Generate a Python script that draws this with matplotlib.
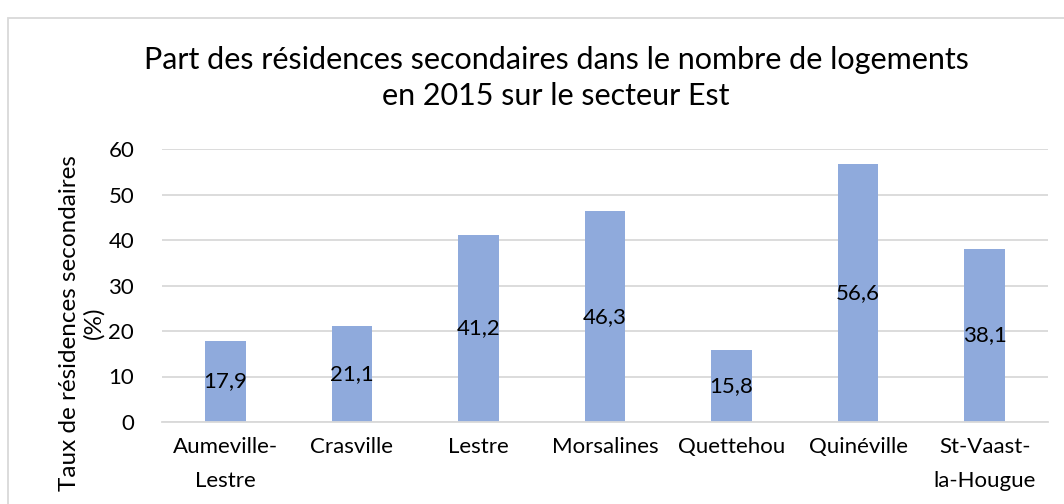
import matplotlib.pyplot as plt
from matplotlib.patches import Rectangle

communes = ['Aumeville-\nLestre', 'Crasville', 'Lestre', 'Morsalines',
            'Quettehou', 'Quinéville', 'St-Vaast-\nla-Hougue']
taux = [17.9, 21.1, 41.2, 46.3, 15.8, 56.6, 38.1]
yticks = [0, 10, 20, 30, 40, 50, 60]

plt.rcParams['font.family'] = ['Lato', 'DejaVu Sans']

W, H = 1064, 504
fig = plt.figure(figsize=(W / 100, H / 100), dpi=100)

# cadre gris autour du graphique
fig.patches.append(Rectangle((8 / W, -0.05), 1.1, 1 - 17.5 / H + 0.05,
                             transform=fig.transFigure, fill=False,
                             edgecolor='#d9d9d9', linewidth=1.3))

ax = fig.add_axes([162 / W, (H - 422) / H, 886 / W, 273 / H])
bars = ax.bar(range(len(communes)), taux, width=0.32, color='#8faadc', zorder=2)
ax.set_xlim(-0.5, len(communes) - 0.5)
ax.set_ylim(0, 60)
ax.set_yticks(yticks)
ax.set_xticks(range(len(communes)))
ax.set_xticklabels(communes, fontsize=16, linespacing=1.85)
ax.tick_params(axis='y', labelsize=16, length=0, pad=20)
ax.tick_params(axis='x', length=0, pad=11)
ax.grid(axis='y', color='#d9d9d9', linewidth=1.3, zorder=0)
for s in ['top', 'right', 'left']:
    ax.spines[s].set_visible(False)
ax.spines['bottom'].set_color('#d9d9d9')
ax.spines['bottom'].set_linewidth(1.3)

labels = [f'{v:.1f}'.replace('.', ',') for v in taux]
ax.bar_label(bars, labels=labels, label_type='center', fontsize=16)

ax.set_ylabel('Taux de résidences secondaires\n(%)', fontsize=17.5, linespacing=1.15)
ax.yaxis.set_label_coords((104 - 162) / 886, (422 - 323) / 273)

fig.text(556 / W, 1 - 78 / H,
         'Part des résidences secondaires dans le nombre de logements\nen 2015 sur le secteur Est',
         ha='center', va='center', fontsize=22, linespacing=1.35)

fig.savefig('out.png', dpi=100)
